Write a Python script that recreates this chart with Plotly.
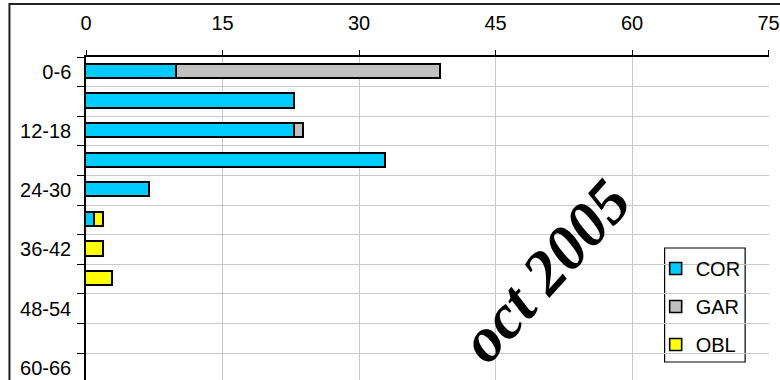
import plotly.graph_objects as go

# Age classes (months) and counts per category
classes = ["0-6", "6-12", "12-18", "18-24", "24-30", "30-36",
           "36-42", "42-48", "48-54", "54-60", "60-66"]
cor = [10, 23, 23, 33, 7, 1, 0, 0, 0, 0, 0]
gar = [29, 0, 1, 0, 0, 0, 0, 0, 0, 0, 0]
obl = [0, 0, 0, 0, 0, 1, 2, 3, 0, 0, 0]

x_ticks = [0, 15, 30, 45, 60, 75]
series = [("COR", cor, "#00CCFF"), ("GAR", gar, "#C0C0C0"), ("OBL", obl, "#FFFF00")]

pos = list(range(len(classes)))
# every other class gets a printed label
labels = [c if i % 2 == 0 else "" for i, c in enumerate(classes)]

fig = go.Figure()
for name, vals, color in series:
    fig.add_trace(go.Bar(
        y=pos, x=[v if v else None for v in vals], orientation="h", name=name,
        legendgroup=name, width=0.48,
        marker=dict(color=color, line=dict(color="#000000", width=1.6)),
    ))

W, H = 780, 380
L, R, T, B = 86, 7, 57, 0
pw, ph = W - L - R, H - T - B
X_RANGE = [0, 75.05]
Y_RANGE = [10.41, -0.5]

def px_x(p):
    return (p - L) / pw

def px_y(p):
    return (H - B - p) / ph

def dx(p):
    return X_RANGE[0] + (p - L) / pw * (X_RANGE[1] - X_RANGE[0])

def dy(p):
    return Y_RANGE[1] + (p - T) / ph * (Y_RANGE[0] - Y_RANGE[1])

fig.update_layout(
    width=W, height=H, barmode="stack", bargap=0,
    margin=dict(l=L, r=R, t=T, b=B, pad=0),
    paper_bgcolor="white", plot_bgcolor="white",
    font=dict(family="Liberation Sans, Arial, sans-serif", color="#000000", size=20),
    xaxis=dict(
        side="top", range=X_RANGE, tickvals=x_ticks, ticktext=[str(v) for v in x_ticks],
        showline=True, linecolor="#000000", linewidth=1.5,
        ticks="outside", ticklen=5, tickcolor="#000000", tickwidth=1.2,
        showgrid=True, gridcolor="#C8C8C8", gridwidth=1,
        tickfont=dict(size=20), ticklabelstandoff=12, zeroline=False,
        ticklabeloverflow="allow",
    ),
    yaxis=dict(
        range=Y_RANGE, tickvals=pos, ticktext=labels,
        ticks="", showgrid=False, zeroline=False,
        showline=True, linecolor="#000000", linewidth=1.5,
        tickfont=dict(size=20), ticklabelstandoff=9,
        minor=dict(tickvals=[i - 0.5 for i in range(len(classes) + 1)],
                   ticks="outside", ticklen=7, tickcolor="#000000", tickwidth=1.2,
                   showgrid=True, gridcolor="#C8C8C8", gridwidth=1),
    ),
    legend=dict(
        x=px_x(659), y=px_y(249), xanchor="left", yanchor="top",
        bgcolor="rgba(0,0,0,0)", borderwidth=0,
        font=dict(size=20), tracegroupgap=9, itemwidth=30,
    ),
    showlegend=True,
)

# legend frame
fig.add_shape(type="rect", xref="x", yref="y", layer="below",
              x0=dx(668), x1=dx(749), y0=dy(248), y1=dy(362),
              line=dict(color="#000000", width=1.2), fillcolor="white")

# outer chart frame
fig.add_shape(type="rect", xref="paper", yref="paper",
              x0=px_x(9), x1=px_x(800), y0=px_y(400), y1=px_y(4),
              line=dict(color="#222222", width=2), fillcolor="rgba(0,0,0,0)")

fig.add_annotation(
    text="oct 2005", xref="paper", yref="paper",
    x=px_x(548), y=px_y(271), xanchor="center", yanchor="middle",
    textangle=-48, showarrow=False,
    font=dict(family="Liberation Serif, serif", size=63, style="italic",
              weight="bold", color="#000000"),
)

fig.write_html("out.html")
